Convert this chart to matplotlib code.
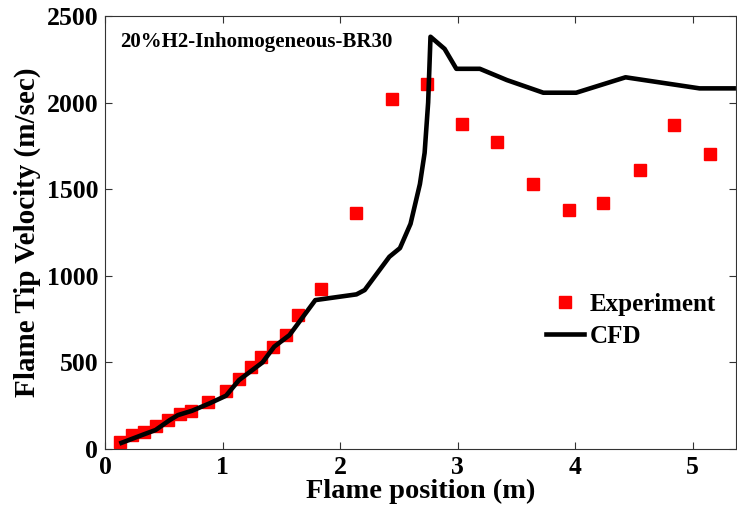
import matplotlib
matplotlib.use("Agg")
import matplotlib.pyplot as plt

# experiment points (flame position m, tip velocity m/s)
exp_x = [0.13, 0.23, 0.33, 0.43, 0.54, 0.64, 0.73, 0.88, 1.03, 1.14, 1.24, 1.33, 1.43, 1.54,
         1.64, 1.84, 2.14, 2.445, 2.74, 3.04, 3.34, 3.64, 3.95, 4.24, 4.55, 4.84, 5.15]
exp_y = [42, 81, 100, 133, 167, 202, 221, 273, 337, 404, 475, 533, 591, 658,
         772, 924, 1363, 2018, 2110, 1879, 1772, 1528, 1378, 1418, 1611, 1869, 1705]

# CFD curve
cfd_x = [0.14, 0.33, 0.43, 0.55, 0.62, 0.74, 0.89, 1.03, 1.14, 1.34, 1.44, 1.57, 1.79, 2.14,
         2.21, 2.42, 2.51, 2.60, 2.68, 2.72, 2.75, 2.77, 2.89, 2.99, 3.19, 3.42, 3.73, 4.01,
         4.43, 5.06, 5.35]
cfd_y = [36, 85, 110, 167, 196, 221, 264, 308, 398, 500, 591, 658, 860, 893,
         918, 1110, 1160, 1300, 1530, 1710, 2000, 2380, 2310, 2195, 2195, 2130, 2057, 2057,
         2146, 2082, 2082]

plt.rcParams['font.family'] = ['Liberation Serif', 'DejaVu Serif']
plt.rcParams['font.weight'] = 'bold'

fig = plt.figure(figsize=(7.37, 5.15), dpi=100)
ax = fig.add_axes([0.1425, 0.128, 0.8555, 0.841])

ax.plot(exp_x, exp_y, 's', color='#ff0000', markersize=9, label='Experiment', zorder=2)
ax.plot(cfd_x, cfd_y, '-', color='black', linewidth=3.3, label='CFD', zorder=3)

ax.set_xlim(0, 5.366)
ax.set_ylim(0, 2500)
ax.set_xticks([0, 1, 2, 3, 4, 5])
ax.set_yticks([0, 500, 1000, 1500, 2000, 2500])
ax.tick_params(direction='in', top=True, right=True, length=5, width=0.8,
               color='#333333', labelsize=18.5, pad=5)
for lab in ax.get_xticklabels() + ax.get_yticklabels():
    lab.set_fontweight('bold')
for s in ax.spines.values():
    s.set_linewidth(0.8)
    s.set_color('#333333')

ax.set_xlabel('Flame position (m)', fontsize=20.5, fontweight='bold', labelpad=0)
ax.set_ylabel('Flame Tip Velocity (m/sec)', fontsize=21, fontweight='bold', labelpad=4)

ax.text(0.024, 0.94, '20%H2-Inhomogeneous-BR30', transform=ax.transAxes,
        fontsize=15, fontweight='bold', va='center', ha='left')

ax.legend(loc='upper left', bbox_to_anchor=(0.70, 0.36), frameon=False,
          prop={'size': 18, 'weight': 'bold'}, handlelength=1.5, borderpad=0,
          borderaxespad=0, handletextpad=0.25, labelspacing=0.35)

fig.savefig('out.png', dpi=100)
